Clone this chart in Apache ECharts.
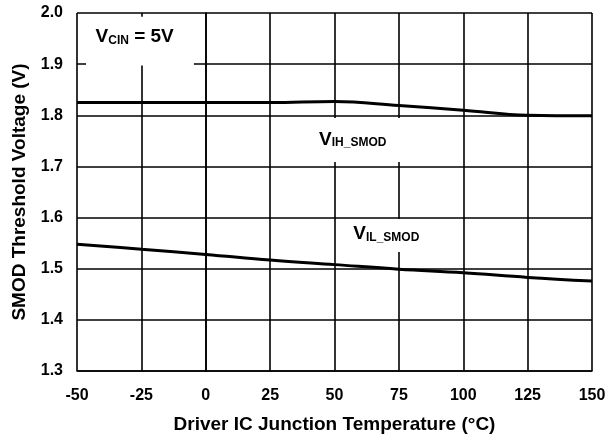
<!DOCTYPE html>
<html><head><meta charset="utf-8">
<script src="https://cdn.jsdelivr.net/npm/echarts@6/dist/echarts.min.js"></script>
<style>html,body{margin:0;padding:0;background:#fff}#c{width:612px;height:440px}</style>
</head><body><div id="c"></div>
<script>
// ---- data ----
const temps = [-50, -25, 0, 25, 50, 75, 100, 125, 150];
const vihSmod = [1.825, 1.825, 1.825, 1.825, 1.827, 1.819, 1.810, 1.800, 1.799];
const vilSmod = [1.548, 1.538, 1.528, 1.517, 1.508, 1.499, 1.492, 1.483, 1.476];
const xTicks = [-50, -25, 0, 25, 50, 75, 100, 125, 150];
const yTicks = [1.3, 1.4, 1.5, 1.6, 1.7, 1.8, 1.9, 2.0];
const xTitle = 'Driver IC Junction Temperature (\u00B0C)';
const yTitle = 'SMOD Threshold Voltage (V)';
// annotations: main text, subscript text, anchor (data coords), white box corners (data coords)
const annMain = ['V', 'V', 'V'];
const annSub = ['CIN', 'IH_SMOD', 'IL_SMOD'];
const annTail = [' = 5V', '', ''];
const annAnchor = [[-42.8, 1.9526], [44.0, 1.7523], [57.3, 1.568]];
const annBox = [[[-46.5, 1.9928], [-4.6, 1.8975]], [[40.5, 1.7949], [77.4, 1.7088]], [[54.1, 1.5973], [87.1, 1.5326]]];

const FONT = '"Liberation Sans", Arial, Helvetica, sans-serif';
const chart = echarts.init(document.getElementById('c'), null, {renderer: 'canvas'});
const gridLine = {show: true, lineStyle: {color: '#000', width: 1.6}};
chart.setOption({
  animation: false,
  backgroundColor: '#fff',
  grid: {left: 77, right: 20, top: 13, bottom: 69},
  xAxis: {
    type: 'value', min: xTicks[0], max: xTicks[xTicks.length - 1], interval: 25,
    axisLine: {show: true, lineStyle: {color: '#000', width: 1.6}},
    axisTick: {show: false},
    splitLine: gridLine,
    axisLabel: {color: '#000', fontFamily: FONT, fontWeight: 'bold', fontSize: 16, margin: 17},
    name: xTitle, nameLocation: 'middle', nameGap: 44,
    nameTextStyle: {color: '#000', fontFamily: FONT, fontWeight: 'bold', fontSize: 19}
  },
  yAxis: {
    type: 'value', min: yTicks[0], max: yTicks[yTicks.length - 1], interval: 0.1,
    axisLine: {show: true, lineStyle: {color: '#000', width: 1.6}},
    axisTick: {show: false},
    splitLine: gridLine,
    axisLabel: {color: '#000', fontFamily: FONT, fontWeight: 'bold', fontSize: 16, margin: 14,
      formatter: v => v.toFixed(1)},
    name: yTitle, nameLocation: 'middle', nameGap: 48,
    nameTextStyle: {color: '#000', fontFamily: FONT, fontWeight: 'bold', fontSize: 19}
  },
  series: [
    {name: 'VIH_SMOD', type: 'line', data: temps.map((t, i) => [t, vihSmod[i]]), smooth: 0.4,
      symbol: 'none', lineStyle: {color: '#000', width: 3}, z: 3},
    {name: 'VIL_SMOD', type: 'line', data: temps.map((t, i) => [t, vilSmod[i]]), smooth: 0.4,
      symbol: 'none', lineStyle: {color: '#000', width: 3}, z: 3}
  ]
});

const g = [];
annMain.forEach((m, i) => {
  const p0 = chart.convertToPixel({gridIndex: 0}, annBox[i][0]);
  const p1 = chart.convertToPixel({gridIndex: 0}, annBox[i][1]);
  g.push({type: 'rect', z: 10, silent: true,
    shape: {x: Math.min(p0[0], p1[0]), y: Math.min(p0[1], p1[1]), width: Math.abs(p1[0] - p0[0]), height: Math.abs(p1[1] - p0[1])},
    style: {fill: '#fff'}});
  const a = chart.convertToPixel({gridIndex: 0}, annAnchor[i]);
  g.push({type: 'text', z: 11, silent: true, x: a[0], y: a[1],
    style: {
      text: '{m|' + m + '}{s|' + annSub[i] + '}' + (annTail[i] ? '{m|' + annTail[i] + '}' : ''),
      align: 'left', verticalAlign: 'middle',
      rich: {
        m: {fontFamily: FONT, fontWeight: 'bold', fontSize: 19, lineHeight: 19, fill: '#000'},
        s: {fontFamily: FONT, fontWeight: 'bold', fontSize: 12, lineHeight: 8, verticalAlign: 'bottom', fill: '#000'}
      }
    }});
});
chart.setOption({graphic: g});
</script></body></html>
